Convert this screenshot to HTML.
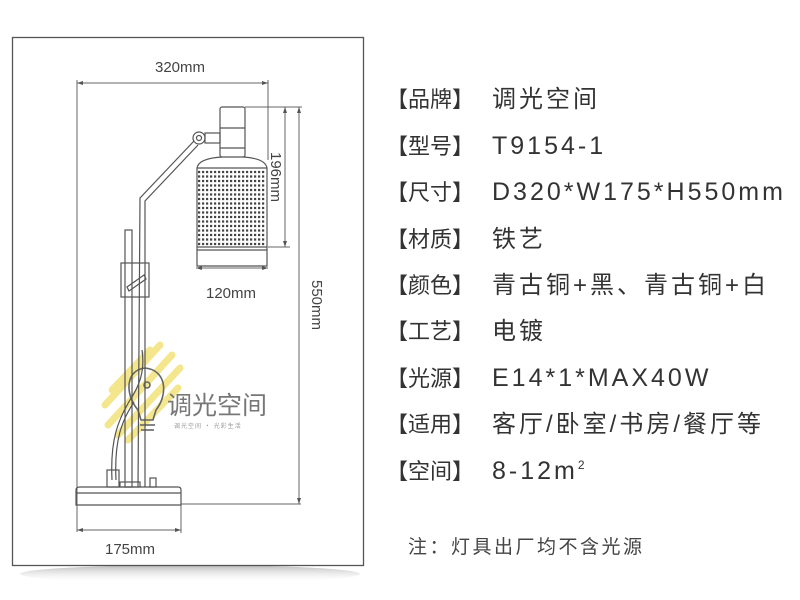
<!DOCTYPE html>
<html><head><meta charset="utf-8"><style>
html,body{margin:0;padding:0;background:#fff;width:800px;height:600px;overflow:hidden}
.row{position:absolute;left:386px;height:40px;line-height:40px;color:#333;font-family:"Liberation Sans","Noto Sans CJK SC",sans-serif;white-space:nowrap}
.lab{font-size:22px;display:inline-block;width:106px;font-family:"Noto Sans CJK SC",sans-serif}
.val{font-size:24px;letter-spacing:3px}
.lat{font-size:25px;letter-spacing:3px;font-family:"Liberation Sans",sans-serif}
</style></head><body>
<svg width="800" height="600" style="position:absolute;left:0;top:0">
<defs>
<linearGradient id="sh" x1="0" y1="0" x2="0" y2="1"><stop offset="0" stop-color="#999" stop-opacity=".7"/><stop offset="1" stop-color="#fff" stop-opacity="0"/></linearGradient>
</defs>
<ellipse cx="190" cy="574" rx="170" ry="9" fill="url(#sh)"/>
<rect x="12.5" y="37.5" width="351" height="528" fill="#fff" stroke="#555" stroke-width="1.3"/>
<!-- watermark -->
<g stroke="#f3e27a" stroke-width="7" stroke-linecap="round" opacity=".85">
<line x1="105" y1="405" x2="160" y2="345"/>
<line x1="108" y1="425" x2="172" y2="355"/>
<line x1="118" y1="435" x2="180" y2="368"/>
<line x1="128" y1="440" x2="178" y2="388"/>
<line x1="112" y1="390" x2="150" y2="350"/>
</g>
<g fill="none" stroke="#666" stroke-width="1.6">
<path d="M145 368 C125 370 125 395 138 410 L141 420 L153 420 L156 410 C168 395 167 370 145 368 Z"/>
<circle cx="147" cy="385" r="3"/>
<line x1="140" y1="425" x2="155" y2="425"/><line x1="141" y1="430" x2="154" y2="430"/>
</g>
<text x="167" y="414" font-family="Noto Sans CJK SC,sans-serif" font-size="25" fill="#777">调光空间</text>
<text x="174" y="428" font-family="Noto Sans CJK SC,sans-serif" font-size="6" fill="#999" letter-spacing="1">调光空间 · 光彩生活</text>
<!-- dimension lines -->
<g stroke="#666" stroke-width="1" fill="none">
<line x1="77" y1="83" x2="268" y2="83"/>
<line x1="77" y1="80" x2="77" y2="532"/>
<line x1="268" y1="80" x2="268" y2="160"/>
<line x1="245" y1="107" x2="302" y2="107"/>
<line x1="285" y1="107" x2="285" y2="247"/>
<line x1="268" y1="247" x2="290" y2="247"/>
<line x1="299" y1="107" x2="299" y2="504"/>
<line x1="181" y1="504" x2="301" y2="504"/>
<line x1="196" y1="268" x2="268" y2="268"/>
<line x1="77" y1="530" x2="181" y2="530"/>
<line x1="181" y1="505" x2="181" y2="533"/>
</g>
<g fill="#555">
<path d="M77 83l6-2v4z"/><path d="M268 83l-6-2v4z"/>
<path d="M196 268l6-2v4z"/><path d="M268 268l-6-2v4z"/>
<path d="M77 530l6-2v4z"/><path d="M181 530l-6-2v4z"/>
<path d="M285 107l-2 6h4z"/><path d="M285 247l-2-6h4z"/>
<path d="M299 107l-2 6h4z"/><path d="M299 504l-2-6h4z"/>
</g>
<g font-family="Liberation Sans,sans-serif" font-size="15" fill="#444">
<text x="180" y="72" text-anchor="middle">320mm</text>
<text x="231" y="298" text-anchor="middle">120mm</text>
<text x="130" y="554" text-anchor="middle">175mm</text>
<text transform="translate(271,177) rotate(90)" text-anchor="middle">196mm</text>
<text transform="translate(312,305) rotate(90)" text-anchor="middle">550mm</text>
</g>
<!-- lamp -->
<g stroke="#555" stroke-width="1.2" fill="none">
<rect x="220" y="107" width="25" height="50" rx="2"/>
<line x1="220" y1="128" x2="245" y2="128"/>
<line x1="220" y1="148" x2="245" y2="148"/>
<rect x="205" y="133" width="15" height="10"/>
<circle cx="199" cy="138" r="6"/><circle cx="199" cy="138" r="2.5"/>
<path d="M222 157 C205 158 198 162 197 168 L197 266 L267 266 L267 168 C266 162 259 158 243 157"/>
<line x1="197" y1="168" x2="267" y2="168"/>
<line x1="197" y1="247" x2="267" y2="247"/>
<line x1="197" y1="250" x2="267" y2="250"/>
<path d="M194 141 L140 198 L138 487"/>
<path d="M198 145 L145 201 L145 487"/>
<rect x="125" y="230" width="7" height="257"/>
<rect x="121" y="263" width="28" height="34"/>
<path d="M127 287 L144 275 L146 279 L129 291 Z"/>
<path d="M112 480 C110 440 118 420 130 400 C140 385 145 370 142 350"/>
<path d="M116 480 C114 440 122 420 134 402"/>
<rect x="107" y="470" width="12" height="17"/>
<rect x="120" y="482" width="20" height="5"/>
<rect x="150" y="478" width="6" height="9"/>
<path d="M76 490 Q76 487 80 487 L178 487 Q181 487 181 490 L181 505 L76 505 Z"/>
<line x1="76" y1="493" x2="181" y2="493"/>
</g>
<g stroke="#444" stroke-width="2.2" stroke-dasharray="2.2 1.8">
<line x1="198" y1="172" x2="266" y2="172"/><line x1="198" y1="176.5" x2="266" y2="176.5"/>
<line x1="198" y1="181" x2="266" y2="181"/><line x1="198" y1="185.5" x2="266" y2="185.5"/>
<line x1="198" y1="190" x2="266" y2="190"/><line x1="198" y1="194.5" x2="266" y2="194.5"/>
<line x1="198" y1="199" x2="266" y2="199"/><line x1="198" y1="203.5" x2="266" y2="203.5"/>
<line x1="198" y1="208" x2="266" y2="208"/><line x1="198" y1="212.5" x2="266" y2="212.5"/>
<line x1="198" y1="217" x2="266" y2="217"/><line x1="198" y1="221.5" x2="266" y2="221.5"/>
<line x1="198" y1="226" x2="266" y2="226"/><line x1="198" y1="230.5" x2="266" y2="230.5"/>
<line x1="198" y1="235" x2="266" y2="235"/><line x1="198" y1="239.5" x2="266" y2="239.5"/>
<line x1="198" y1="244" x2="266" y2="244"/>
</g>
</svg>
<div class="row" style="top:78px"><span class="lab">【品牌】</span><span class="val">调光空间</span></div>
<div class="row" style="top:125px"><span class="lab">【型号】</span><span class="lat">T9154-1</span></div>
<div class="row" style="top:171px"><span class="lab">【尺寸】</span><span class="lat">D320*W175*H550mm</span></div>
<div class="row" style="top:218px"><span class="lab">【材质】</span><span class="val">铁艺</span></div>
<div class="row" style="top:264px"><span class="lab">【颜色】</span><span class="val">青古铜+黑、青古铜+白</span></div>
<div class="row" style="top:310px"><span class="lab">【工艺】</span><span class="val">电镀</span></div>
<div class="row" style="top:357px"><span class="lab">【光源】</span><span class="lat">E14*1*MAX40W</span></div>
<div class="row" style="top:403px"><span class="lab">【适用】</span><span class="val">客厅/卧室/书房/餐厅等</span></div>
<div class="row" style="top:450px"><span class="lab">【空间】</span><span class="lat">8-12m<span style="font-size:12px;vertical-align:10px;line-height:0">2</span></span></div>
<div style="position:absolute;left:408px;top:532px;font-family:'Noto Sans CJK SC',sans-serif;font-size:19px;letter-spacing:2.5px;color:#444;white-space:nowrap">注：灯具出厂均不含光源</div>
</body></html>
